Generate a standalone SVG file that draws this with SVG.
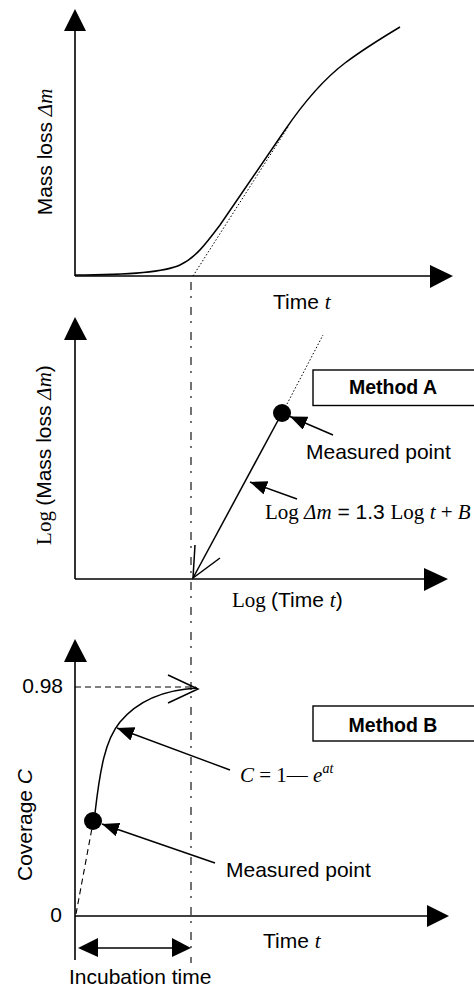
<svg xmlns="http://www.w3.org/2000/svg" width="474" height="988" viewBox="0 0 474 988">
<style>
.ax{stroke:#000;stroke-width:1.6;fill:none}
.ln{stroke:#000;stroke-width:1.5;fill:none}
.an{stroke:#000;stroke-width:1.4;fill:none}
.dot{stroke:#000;stroke-width:1;fill:none;stroke-dasharray:1.5 2}
.dash{stroke:#000;stroke-width:1.1;fill:none;stroke-dasharray:6 4}
.dd{stroke:#000;stroke-width:1.1;fill:none;stroke-dasharray:8 6 2 9}
.head{fill:#000}
.box{fill:#fff;stroke:#000;stroke-width:1.4}
.s{font-family:"Liberation Sans",Arial,sans-serif;font-size:21px;fill:#000}
.b{font-family:"Liberation Sans",Arial,sans-serif;font-size:19.5px;font-weight:bold;fill:#000}
.r{font-family:"Liberation Serif","Times New Roman",serif}
.i{font-family:"Liberation Serif","Times New Roman",serif;font-style:italic}
</style>
<defs>
<marker id="ah" viewBox="0 0 17 14" refX="17" refY="7" markerWidth="17" markerHeight="14" markerUnits="userSpaceOnUse" orient="auto">
<path d="M0,0 L17,7 L0,14 z" fill="#000"/>
</marker>
</defs>

<g id="panel1">
<line class="ax" x1="75" y1="30" x2="75" y2="276"/>
<line class="ax" x1="75" y1="276" x2="431" y2="276"/>
<polygon class="head" points="75,9 64,31 86,31"/>
<polygon class="head" points="453,276 430,265 430,288"/>
<path class="ln" d="M75,275 C130,275 165,272 180,265 C195,258 205,245 220,225 L285,130 C300,108 320,82 345,63 C365,48 385,36 400,27"/>
<line class="dot" x1="193" y1="276" x2="288" y2="127"/>
<text class="s" transform="translate(52,152) rotate(-90)" text-anchor="middle">Mass loss <tspan class="i">Δm</tspan></text>
<text class="s" x="273" y="309">Time <tspan class="i">t</tspan></text>
</g>

<g id="panel2">
<line class="ax" x1="75" y1="339" x2="75" y2="579"/>
<line class="ax" x1="75" y1="579" x2="425" y2="579"/>
<polygon class="head" points="75,317 64,340 87,340"/>
<polygon class="head" points="448,579 424,568 424,591"/>
<line class="dot" x1="287" y1="404" x2="323" y2="335"/>
<line class="ln" x1="282" y1="413" x2="193" y2="578"/>
<polyline class="ln" points="195,545 193,578 220,558"/>
<circle cx="282" cy="413" r="9" fill="#000"/>
<text class="s" transform="translate(51,455) rotate(-90)" text-anchor="middle"><tspan class="r">Log </tspan>(Mass loss <tspan class="i">Δm</tspan>)</text>
<text class="s" x="232" y="607"><tspan class="r">Log </tspan>(Time <tspan class="i">t</tspan>)</text>
</g>

<g id="methodA">
<rect class="box" x="313" y="370" width="170" height="35.5"/>
<text class="b" x="393" y="394" text-anchor="middle">Method A</text>
</g>

<g id="labelA">
<text class="s" x="306" y="459">Measured point</text>
<text class="s" x="265" y="519"><tspan class="r">Log </tspan><tspan class="i">Δm</tspan> = 1.3 <tspan class="r">Log </tspan><tspan class="i">t</tspan><tspan class="r"> + </tspan><tspan class="i">B</tspan></text>
</g>

<g id="panel3">
<line class="ax" x1="75" y1="661" x2="75" y2="960"/>
<line class="ax" x1="75" y1="916" x2="428" y2="916"/>
<polygon class="head" points="75,639 64,662 87,662"/>
<polygon class="head" points="449,916 427,905 427,927"/>
<line class="dash" x1="75" y1="687" x2="196" y2="687"/>
<polyline class="ln" points="168,675 198,689 168,703"/>
<path class="ln" d="M95,813 C100,770 105,740 120,722 C135,704 160,690 197,688"/>
<line class="dash" x1="76" y1="914" x2="92" y2="828"/>
<circle cx="93" cy="821" r="9" fill="#000"/>
<text class="s" x="63" y="693" text-anchor="end">0.98</text>
<text class="s" x="62" y="922" text-anchor="end">0</text>
<text class="s" transform="translate(32,825) rotate(-90)" text-anchor="middle">Coverage <tspan font-style="italic">C</tspan></text>
<text class="s" x="263" y="948">Time <tspan class="i">t</tspan></text>
</g>

<g id="methodB">
<rect class="box" x="313" y="706" width="170" height="35"/>
<text class="b" x="393" y="732" text-anchor="middle">Method B</text>
</g>

<g id="labelB">
<text class="s" x="240" y="782"><tspan class="i">C</tspan><tspan class="r"> = 1</tspan><tspan class="r">—</tspan><tspan class="i"> e</tspan><tspan class="i" font-size="14" dy="-9">at</tspan></text>
<text class="s" x="226" y="877">Measured point</text>
</g>

<g id="incubation">
<line class="ln" x1="96" y1="948" x2="174" y2="948"/>
<polygon class="head" points="78,948 98,938 98,957"/>
<polygon class="head" points="191,948 172,938 172,957"/>
<text class="s" x="69" y="984">Incubation time</text>
</g>

<g id="connectors">
<line class="dd" x1="191" y1="282" x2="191" y2="963"/>
<line class="an" x1="333" y1="435" x2="290" y2="416.5" marker-end="url(#ah)"/>
<line class="an" x1="297" y1="499" x2="250" y2="482" marker-end="url(#ah)"/>
<line class="an" x1="230" y1="770" x2="117" y2="728" marker-end="url(#ah)"/>
<line class="an" x1="215" y1="863" x2="102" y2="824" marker-end="url(#ah)"/>
</g>
</svg>
